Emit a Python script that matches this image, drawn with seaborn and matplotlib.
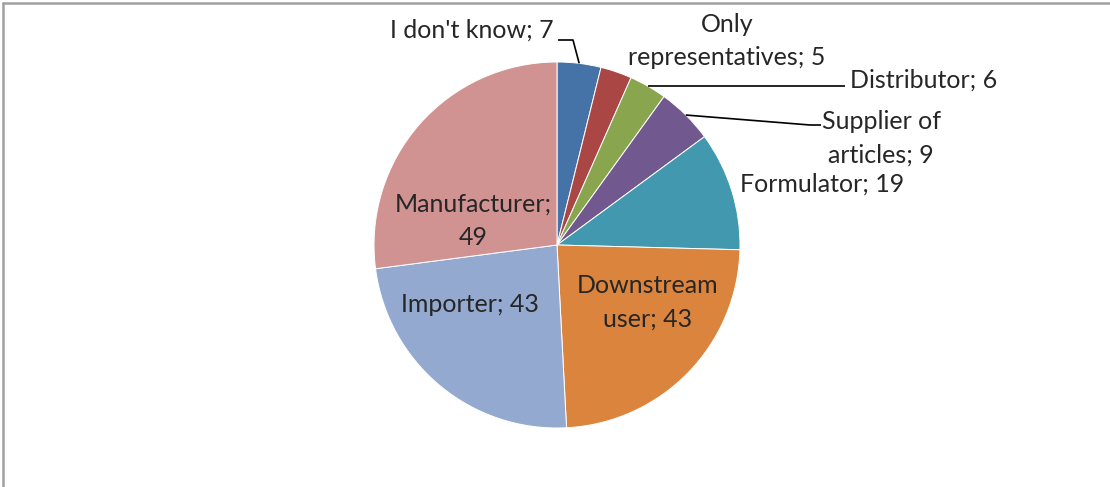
import numpy as np
import matplotlib
matplotlib.use("Agg")
import matplotlib.pyplot as plt
from matplotlib.lines import Line2D
import seaborn as sns

# Respondent roles and counts, clockwise from 12 o'clock
roles = ["I don't know", "Only\nrepresentatives", "Distributor", "Supplier of\narticles",
         "Formulator", "Downstream\nuser", "Importer", "Manufacturer"]
counts = [7, 5, 6, 9, 19, 43, 43, 49]
colors = ["#4572A7", "#AA4643", "#89A54E", "#71588F",
          "#4198AF", "#DB843D", "#93A9CF", "#D19392"]

sns.set_theme(style="white")
plt.rcParams["font.family"] = ["Lato", "DejaVu Sans"]
palette = sns.color_palette(colors)

W, H = 1110, 487
fig = plt.figure(figsize=(W / 100, H / 100), dpi=100)
fig.patch.set_facecolor("white")

# pie centre and radius in pixels
cx, cy, R = 557, 245, 183
ax = fig.add_axes([(cx - R) / W, (H - cy - R) / H, 2 * R / W, 2 * R / H])
wedges, _ = ax.pie(counts, colors=palette, startangle=90, counterclock=False,
                   radius=1.0, wedgeprops=dict(edgecolor="white", linewidth=0.7))
ax.set_xlim(-1, 1)
ax.set_ylim(-1, 1)
ax.set_aspect("equal")
ax.axis("off")


def d(px, py):
    """pixel position -> pie data coordinates"""
    return (px - cx) / R, (cy - py) / R


def edge_point(i):
    w = wedges[i]
    th = np.deg2rad((w.theta1 + w.theta2) / 2)
    return np.cos(th), np.sin(th)


txt = dict(fontsize=18, color="#262626", linespacing=1.55, clip_on=False)
seps = ["; ", "; ", "; ", "; ", "; ", "; ", "; ", ";\n"]
labels = [f"{r}{s}{c}" for r, s, c in zip(roles, seps, counts)]

# label placement (pixel positions) and alignment
place = [
    (554, 30, "right", "center"),
    (727, 41, "center", "center"),
    (850, 80, "left", "center"),
    (881, 138, "center", "center"),
    (740, 184, "left", "center"),
    (648, 302, "center", "center"),
    (470, 304, "center", "center"),
    (473, 221, "center", "center"),
]
for lab, (px, py, ha, va) in zip(labels, place):
    x, y = d(px, py)
    ax.text(x, y, lab, ha=ha, va=va, **txt)

# leader lines
line_kw = dict(color="black", linewidth=1.2, clip_on=False, solid_capstyle="butt")
ex, ey = edge_point(0)
p1, p2 = d(558, 40), d(573, 40)
ax.plot([p1[0], p2[0], ex], [p1[1], p2[1], ey], **line_kw)

ex, ey = edge_point(2)
p1 = d(845, 86)
ax.plot([ex, p1[0]], [ey, ey], **line_kw)

ex, ey = edge_point(3)
p1, p2 = d(810, 125), d(821, 125)
ax.plot([ex, p1[0], p2[0]], [ey, p1[1], p2[1]], **line_kw)

# chart area frame (left and top edges)
fig.add_artist(Line2D([2.5 / W, 2.5 / W], [0, 1 - 2.5 / H], transform=fig.transFigure,
                      color="#A0A0A0", linewidth=1.8))
fig.add_artist(Line2D([2.5 / W, 1], [1 - 2.5 / H, 1 - 2.5 / H], transform=fig.transFigure,
                      color="#A0A0A0", linewidth=1.8))

fig.savefig("out.png", dpi=100, facecolor="white")
